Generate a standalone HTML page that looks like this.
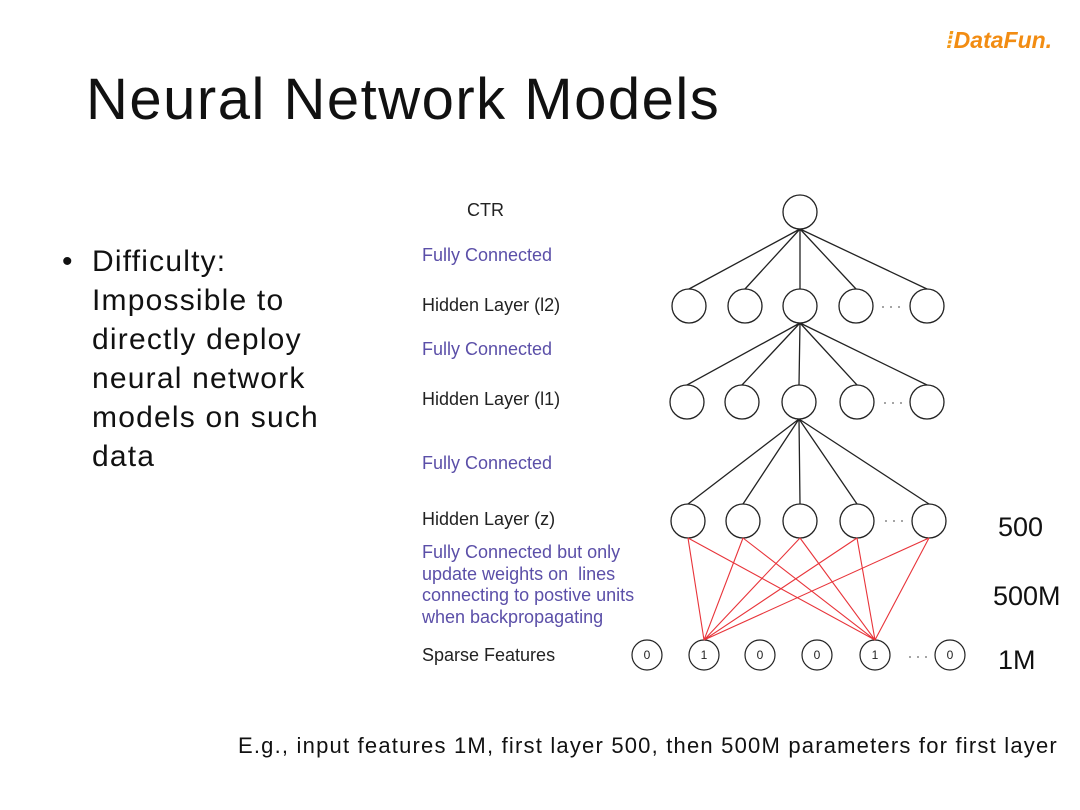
<!DOCTYPE html>
<html><head><meta charset="utf-8"><style>
body{margin:0;width:1080px;height:810px;background:#fff;overflow:hidden;position:relative;font-family:"Liberation Sans",sans-serif}
.t{position:absolute;white-space:nowrap}
.b{color:#5b4fa8;font-size:18px}
.k{color:#222;font-size:18px}
</style></head><body>
<div class="t" style="left:946px;top:27px;font-size:23px;font-weight:bold;font-style:italic;color:#f39a1a">⁞<span style="color:#f28c12">DataFun.</span></div>
<div class="t" style="left:86px;top:66px;font-size:58px;letter-spacing:1.5px;color:#111">Neural Network Models</div>
<div class="t" style="left:62px;top:242px;font-size:30px;line-height:39px;color:#111;white-space:normal;width:320px;letter-spacing:1.2px">
<span style="position:absolute;left:0">•</span><div style="margin-left:30px">Difficulty: Impossible to directly deploy neural network models on such data</div></div>
<div class="t k" style="left:467px;top:200px">CTR</div>
<div class="t b" style="left:422px;top:245px">Fully Connected</div>
<div class="t k" style="left:422px;top:295px">Hidden Layer (l2)</div>
<div class="t b" style="left:422px;top:339px">Fully Connected</div>
<div class="t k" style="left:422px;top:389px">Hidden Layer (l1)</div>
<div class="t b" style="left:422px;top:453px">Fully Connected</div>
<div class="t k" style="left:422px;top:509px">Hidden Layer (z)</div>
<div class="t b" style="left:422px;top:542px;line-height:21.5px">Fully Connected but only<br>update weights on &nbsp;lines<br>connecting to postive units<br>when backpropagating</div>
<div class="t k" style="left:422px;top:645px">Sparse Features</div>
<div class="t" style="left:998px;top:512px;font-size:27px;color:#111">500</div>
<div class="t" style="left:993px;top:581px;font-size:27px;color:#111">500M</div>
<div class="t" style="left:998px;top:645px;font-size:27px;color:#111">1M</div>
<div class="t" style="left:238px;top:733px;font-size:22px;letter-spacing:1.2px;color:#111">E.g., input features 1M, first layer 500, then 500M parameters for first layer</div>
<svg width="1080" height="810" style="position:absolute;left:0;top:0" fill="none" stroke="#222" stroke-width="1.3">
<circle cx="800" cy="212" r="17"/>
<circle cx="689" cy="306" r="17"/><circle cx="745" cy="306" r="17"/><circle cx="800" cy="306" r="17"/><circle cx="856" cy="306" r="17"/><circle cx="927" cy="306" r="17"/>
<circle cx="687" cy="402" r="17"/><circle cx="742" cy="402" r="17"/><circle cx="799" cy="402" r="17"/><circle cx="857" cy="402" r="17"/><circle cx="927" cy="402" r="17"/>
<circle cx="688" cy="521" r="17"/><circle cx="743" cy="521" r="17"/><circle cx="800" cy="521" r="17"/><circle cx="857" cy="521" r="17"/><circle cx="929" cy="521" r="17"/>
<g stroke-width="1.2">
<circle cx="647" cy="655" r="15"/><circle cx="704" cy="655" r="15"/><circle cx="760" cy="655" r="15"/><circle cx="817" cy="655" r="15"/><circle cx="875" cy="655" r="15"/><circle cx="950" cy="655" r="15"/>
</g>
<path d="M800 229L689 289M800 229L745 289M800 229L800 289M800 229L856 289M800 229L927 289
M800 323L687 385M800 323L742 385M800 323L799 385M800 323L857 385M800 323L927 385
M799 419L688 504M799 419L743 504M799 419L800 504M799 419L857 504M799 419L929 504"/>
<path stroke="#e8343a" stroke-width="1.1" d="M688 538L704 640M743 538L704 640M800 538L704 640M857 538L704 640M929 538L704 640
M688 538L875 640M743 538L875 640M800 538L875 640M857 538L875 640M929 538L875 640"/>
<g fill="#888" stroke="none">
<circle cx="883" cy="307" r="1"/><circle cx="891" cy="307" r="1"/><circle cx="899" cy="307" r="1"/>
<circle cx="885" cy="403" r="1"/><circle cx="893" cy="403" r="1"/><circle cx="901" cy="403" r="1"/>
<circle cx="886" cy="521" r="1"/><circle cx="894" cy="521" r="1"/><circle cx="902" cy="521" r="1"/>
<circle cx="910" cy="657" r="1"/><circle cx="918" cy="657" r="1"/><circle cx="926" cy="657" r="1"/>
</g>
<g fill="#222" stroke="none" font-family="Liberation Sans" font-size="12" text-anchor="middle">
<text x="647" y="659">0</text><text x="704" y="659">1</text><text x="760" y="659">0</text><text x="817" y="659">0</text><text x="875" y="659">1</text><text x="950" y="659">0</text>
</g>
</svg>
</body></html>
